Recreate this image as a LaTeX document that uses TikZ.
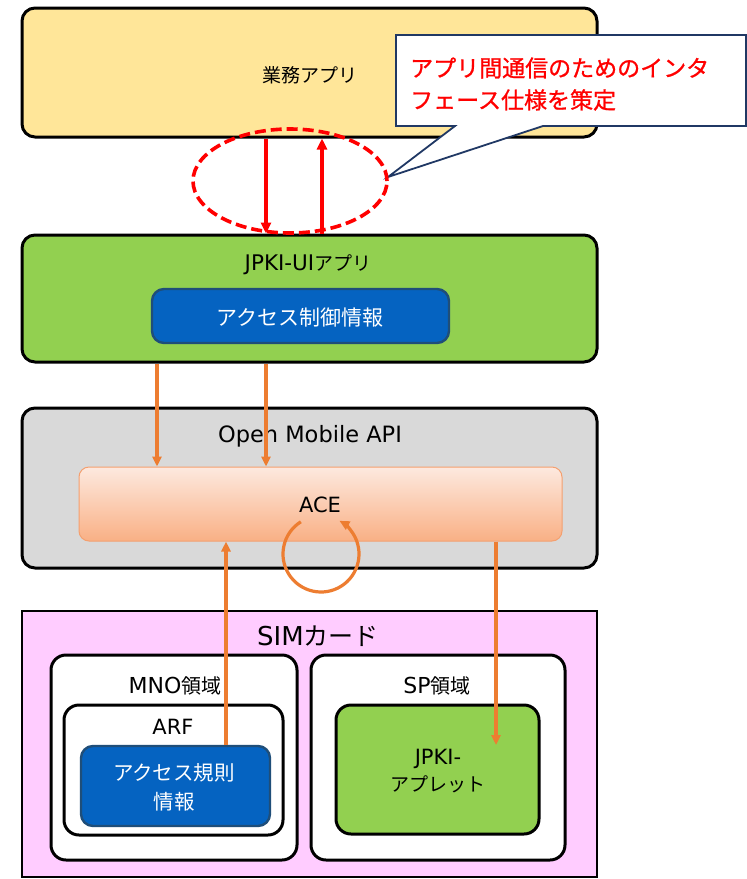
\documentclass[tikz,border=0pt]{standalone}
\usepackage{fontspec}
\setmainfont{Noto Sans CJK JP}
\newfontfamily\latf{DejaVu Sans}
\newfontfamily\jpmed[FakeBold=0.9]{Noto Sans CJK JP}
\usetikzlibrary{arrows.meta,shapes.geometric}
\definecolor{cyel}{HTML}{FFE699}
\definecolor{cgrn}{HTML}{92D050}
\definecolor{cblu}{HTML}{0563C1}
\definecolor{cblud}{HTML}{1F4E79}
\definecolor{cgry}{HTML}{D9D9D9}
\definecolor{cpnk}{HTML}{FFCCFF}
\definecolor{corg}{HTML}{ED7D31}
\definecolor{cnav}{HTML}{203864}
\definecolor{acetop}{HTML}{FDE9DF}
\definecolor{acebot}{HTML}{F9B085}
\definecolor{acebrd}{HTML}{F4A070}
\tikzset{
  bigbox/.style={draw=black, line width=3pt, rounded corners=13pt, inner sep=0pt},
  inbox/.style={draw=black, line width=3pt, rounded corners=15pt, fill=white, inner sep=0pt},
  bluebox/.style={draw=cblud, line width=2.4pt, rounded corners=12pt, fill=cblu, inner sep=0pt},
  txt/.style={inner sep=0pt, font=\fontsize{19}{22}\selectfont},
  wtxt/.style={txt, text=white},
  redarr/.style={draw=red, line width=3.2pt, -{Triangle[length=11pt,width=10pt]}},
  orarr/.style={draw=corg, line width=3.2pt, -{Triangle[length=10pt,width=9pt]}},
}
\begin{document}
\begin{tikzpicture}[x=1pt,y=-1pt]
\useasboundingbox (0,0) rectangle (747,879);
% top app box
\node[bigbox, fill=cyel, minimum width=575pt, minimum height=129pt] (gyomu) at (309.5,72.5) {};
\node[txt] (gyomut) at (310,75) {業務アプリ};
% JPKI-UI app
\node[bigbox, fill=cgrn, minimum width=575pt, minimum height=127pt] (jpkiui) at (309.5,298.5) {};
\node[txt] (jpkiuit) at (308,265) {{\latf\fontsize{21.5}{22}\selectfont JPKI-UI}アプリ};
\node[bluebox, minimum width=297pt, minimum height=54pt] (acctl) at (300.5,316) {};
\node[wtxt, font=\fontsize{21}{24}\selectfont] (acctlt) at (300,318) {アクセス制御情報};
% Open Mobile API
\node[bigbox, fill=cgry, minimum width=575pt, minimum height=160pt] (oma) at (309.5,488) {};
\node[txt, font=\latf\fontsize{22.5}{24}\selectfont] (omat) at (310,436) {Open Mobile API};
\node[draw=acebrd, line width=1pt, rounded corners=10pt, top color=acetop, bottom color=acebot,
      minimum width=483pt, minimum height=74pt, inner sep=0pt] (ace) at (320.5,504) {};
\node[txt, font=\latf\fontsize{21}{24}\selectfont] (acet) at (320,505) {ACE};
% SIM card
\node[draw=black, line width=2pt, fill=cpnk, minimum width=575pt, minimum height=266pt, inner sep=0pt] (sim) at (309.5,744) {};
\node[txt, font=\fontsize{25}{28}\selectfont] (simt) at (318,636) {{\latf\fontsize{26}{28}\selectfont SIM}カード};
\node[inbox, minimum width=246pt, minimum height=205pt] (mno) at (174,757.5) {};
\node[txt, font=\fontsize{20}{22}\selectfont] (mnot) at (175,686) {{\latf\fontsize{22}{22}\selectfont MNO}領域};
\node[inbox, minimum width=254pt, minimum height=205pt] (sp) at (438,757.5) {};
\node[txt, font=\fontsize{20}{22}\selectfont] (spt) at (437,686) {{\latf\fontsize{22}{22}\selectfont SP}領域};
\node[inbox, minimum width=219pt, minimum height=130pt] (arf) at (173.5,770) {};
\node[txt, font=\latf\fontsize{21}{22}\selectfont] (arft) at (173,727) {ARF};
\node[bluebox, minimum width=189pt, minimum height=80pt] (accrule) at (175.5,786) {};
\node[wtxt, align=center, font=\fontsize{20.5}{29}\selectfont] (accrulet) at (174,787) {アクセス規則\\情報};
\node[draw=black, line width=3pt, rounded corners=15pt, fill=cgrn, inner sep=0pt,
      minimum width=203pt, minimum height=129pt] (applet) at (437.5,769.5) {};
\node[txt, align=center, font=\fontsize{19}{27}\selectfont] (applett) at (438,771) {{\latf\fontsize{21}{22}\selectfont JPKI-}\\アプレット};
% callout
\draw[draw=cnav, line width=1.8pt, fill=white, line join=miter]
  (396,35) -- (746,35) -- (746,126) -- (543,126) -- (388,177) -- (455,126) -- (396,126) -- cycle;
\node[inner sep=0pt, text=red, align=left, font=\jpmed\fontsize{23}{32}\selectfont, anchor=west] (callt) at (410,84)
  {アプリ間通信のためのインタ\\フェース仕様を策定};
% dashed ellipse
\node[ellipse, draw=red, line width=3.6pt, dash pattern=on 11pt off 5pt, minimum width=194pt, minimum height=104pt, inner sep=0pt] (ell) at (290,181) {};
% red arrows
\draw[redarr] (266,0 |- gyomu.south) -- (266,0 |- jpkiui.north);
\draw[redarr] (322,0 |- jpkiui.north) -- (322,0 |- gyomu.south);
% orange arrows
\draw[orarr] (157,0 |- jpkiui.south) -- (157,0 |- ace.north);
\draw[orarr] (266,0 |- jpkiui.south) -- (266,0 |- ace.north);
\draw[orarr] (226,0 |- accrule.north) -- (226,0 |- ace.south);
\coordinate (appin) at (496,745);
\draw[orarr] (496,0 |- ace.south) -- (appin);
\coordinate (loopc) at (321,554);
\draw[orarr] ([shift={(238:38)}]loopc) arc[start angle=238, end angle=-61, radius=38];
\end{tikzpicture}
\end{document}
